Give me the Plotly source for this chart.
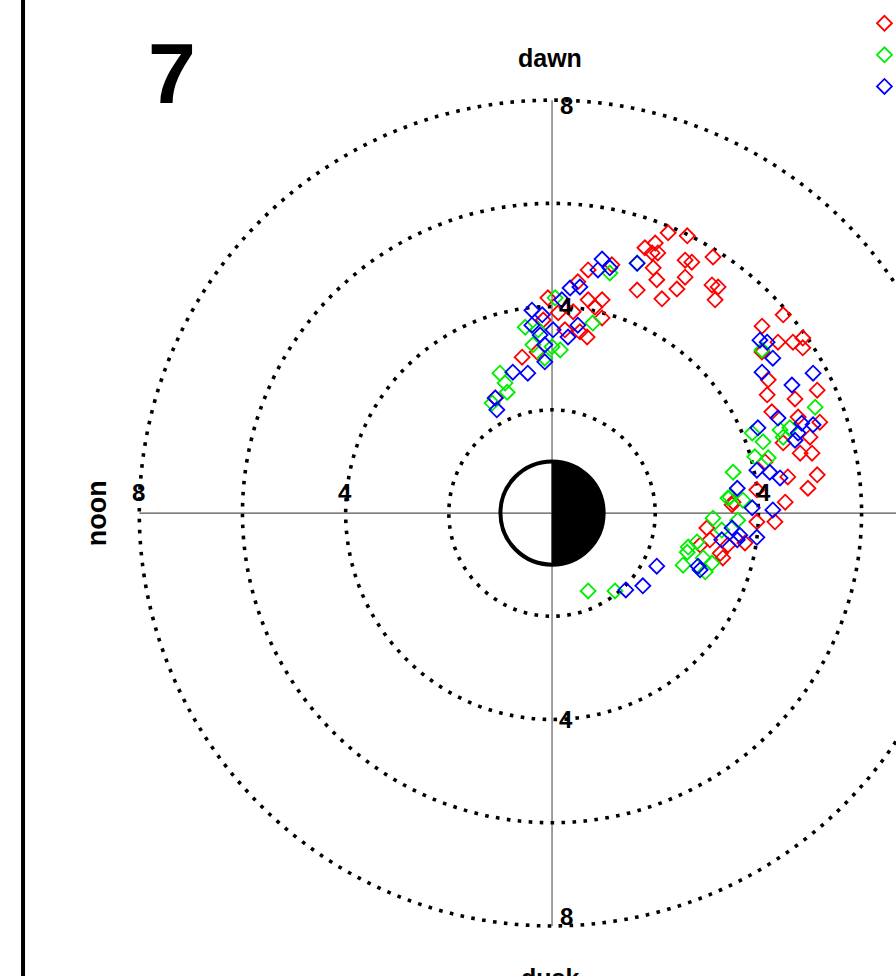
import numpy as np
import plotly.graph_objects as go

# ---------------- data (units: Earth radii) ----------------
SERIES_NAMES = ["Series 1", "Series 2", "Series 3"]
SERIES_COLORS = ["#ff0000", "#00ee00", "#0000ff"]

red_x = [2.25, 2.62, 1.80, 2.00, 1.94, 2.05, 3.12, 1.96, 2.58, 2.71, 2.58, 2.03, 1.65, 2.42,
         2.13, 3.10, 3.22, 3.16, 1.16, 0.70, 0.50, 0.97, 0.70, 0.83, 0.97, -0.08, 0.12, 0.41,
         0.68, 0.54, -0.58, -0.29, -1.10, -0.17, 0.25,
         4.48, 4.07, 4.38, 4.67, 4.86, 4.86, 4.07, 4.19, 4.17, 4.71, 5.14, 4.26, 4.77, 5.19,
         5.00, 4.48, 4.81, 5.04, 4.13, 4.57, 5.14, 4.96, 4.52, 3.51, 4.32, 3.00, 3.49, 3.06,
         3.26, 3.31, 3.74, 3.97, 2.87, 3.41, 3.97]
red_y = [5.43, 5.37, 5.14, 5.23, 5.04, 5.04, 4.96, 4.75, 4.90, 4.86, 4.57, 4.52, 4.32, 4.34,
         4.15, 4.42, 4.38, 4.13, 4.81, 4.71, 4.48, 4.13, 4.13, 3.99, 3.78, 4.17, 3.88, 3.90,
         3.41, 3.51, 3.02, 3.12, 2.23, 3.74, 3.55,
         3.84, 3.62, 3.31, 3.31, 3.39, 3.20, 3.12, 2.58, 2.29, 2.21, 2.38, 1.96, 1.86, 1.76,
         1.47, 1.36, 1.16, 1.16, 0.99, 0.70, 0.74, 0.48, 0.21, 0.21, -0.17, -0.29, 0.16, -0.52,
         -0.78, -0.87, -0.58, -0.17, -0.62, -0.62, 0.45]

green_x = [1.65, 1.12, 0.06, -0.52, 0.79, -0.37, 0.16, 0.00, -1.01, -0.91, -0.87, -1.16,
           -0.27, -0.14,
           4.07, 5.10, 3.88, 4.09, 4.42, 4.48, 4.61, 3.93, 4.19, 3.51, 3.45, 3.70, 3.12, 3.60,
           0.70, 1.22, 3.41, 2.64, 2.62, 2.54, 2.81, 3.10, 2.97, 3.29, 2.93]
green_y = [4.84, 4.65, 4.17, 3.60, 3.68, 3.26, 3.16, 3.22, 2.71, 2.52, 2.34, 2.13,
           3.55, 3.00,
           3.16, 2.05, 1.55, 1.38, 1.61, 1.47, 1.65, 1.09, 1.07, 0.79, 0.31, 0.25, -0.10, -0.14,
           -1.51, -1.51, 0.29, -0.66, -0.76, -1.01, -0.56, -0.97, -1.14, -0.33, -0.87]

blue_x = [0.97, 0.89, 1.12, 1.65, 0.35, 0.54, 0.19, -0.39, -0.19, -0.39, -0.23, 0.02, 0.50,
          0.31, -0.14, -0.14, -0.47, -0.76, -1.10, -1.07,
          4.03, 4.17, 4.28, 4.07, 5.06, 4.65, 4.38, 4.84, 5.06, 4.77, 4.71, 3.99, 3.97, 4.22,
          4.42, 3.59, 3.88, 4.28, 3.49, 1.43, 1.76, 2.03, 2.83, 2.87, 3.59, 3.64, 3.97, 3.29]
blue_y = [4.92, 4.71, 4.75, 4.84, 4.36, 4.38, 4.13, 3.93, 3.84, 3.64, 3.45, 3.55, 3.64,
          3.41, 3.26, 2.93, 2.71, 2.73, 2.23, 2.00,
          3.35, 3.31, 3.00, 2.73, 2.71, 2.48, 1.84, 1.74, 1.71, 1.55, 1.41, 1.65, 0.83, 0.79,
          0.68, 0.48, 0.10, 0.06, -0.29, -1.49, -1.41, -1.03, -1.03, -1.10, -0.52, -0.43, -0.47,
          -0.52]

RING_RADII = [2, 4, 6, 8]
RING_LABELS = [4, 8]
AXIS_LIMIT = 8
EARTH_R = 1.0
DIRECTION_LABELS = {"top": "dawn", "left": "noon", "bottom": "dusk"}
PANEL_LABEL = "7"

# ---------------- figure ----------------
FONT = "Liberation Sans, Arial, Helvetica, sans-serif"
fig = go.Figure()

for name, color, xs, ys in zip(SERIES_NAMES, SERIES_COLORS,
                               [red_x, green_x, blue_x], [red_y, green_y, blue_y]):
    fig.add_trace(go.Scatter(
        x=xs, y=ys, mode="markers", name=name,
        marker=dict(symbol="diamond-open", size=11.5, color=color,
                    line=dict(width=1.8, color=color)),
        cliponaxis=False,
    ))

shapes = []
# axis cross lines
shapes.append(dict(type="line", xref="x", yref="y", x0=-AXIS_LIMIT, x1=AXIS_LIMIT, y0=0, y1=0,
                   line=dict(color="#555555", width=1.2), layer="below"))
shapes.append(dict(type="line", xref="x", yref="y", x0=0, x1=0, y0=-AXIS_LIMIT, y1=AXIS_LIMIT,
                   line=dict(color="#777777", width=1.4), layer="below"))
# dotted rings
for r in RING_RADII:
    shapes.append(dict(type="circle", xref="x", yref="y", x0=-r, x1=r, y0=-r, y1=r,
                       line=dict(color="black", width=3.6, dash="3.6px,7.4px"), layer="below"))
# Earth: night half filled
th = np.linspace(-np.pi / 2, np.pi / 2, 80)
path = "M " + " L ".join(f"{EARTH_R*np.cos(t):.4f},{EARTH_R*np.sin(t):.4f}" for t in th) + " Z"
shapes.append(dict(type="path", xref="x", yref="y", path=path, fillcolor="black",
                   line=dict(color="black", width=1), layer="above"))
shapes.append(dict(type="circle", xref="x", yref="y", x0=-EARTH_R, x1=EARTH_R, y0=-EARTH_R,
                   y1=EARTH_R, line=dict(color="black", width=4), layer="above"))
# left frame line
shapes.append(dict(type="line", xref="paper", yref="paper", x0=0.0257, x1=0.0257, y0=0, y1=1,
                   line=dict(color="black", width=4)))

annotations = []
lab_font = dict(family=FONT, size=24, color="black")
for r in RING_LABELS:
    t = f"<b>{r}</b>"
    # on vertical axis (top and bottom)
    annotations.append(dict(x=0, y=r, xref="x", yref="y", text=t, showarrow=False,
                            xshift=14, yshift=(-5 if r == 8 else 0), font=lab_font))
    annotations.append(dict(x=0, y=-r, xref="x", yref="y", text=t, showarrow=False,
                            xshift=14, yshift=(9 if r == 8 else 0), font=lab_font))
    # on horizontal axis (left and right)
    annotations.append(dict(x=-r, y=0, xref="x", yref="y", text=t, showarrow=False,
                            xshift=-1, yshift=21, font=lab_font))
    annotations.append(dict(x=r, y=0, xref="x", yref="y", text=t, showarrow=False,
                            xshift=6, yshift=21, font=lab_font))

annotations.append(dict(x=0, y=AXIS_LIMIT, xref="x", yref="y",
                        text=f"<b>{DIRECTION_LABELS['top']}</b>",
                        showarrow=False, yshift=42, xshift=-2,
                        font=dict(family=FONT, size=25, color="black")))
annotations.append(dict(x=-AXIS_LIMIT, y=0, xref="x", yref="y",
                        text=f"<b>{DIRECTION_LABELS['left']}</b>",
                        showarrow=False, xshift=-42, textangle=-90,
                        font=dict(family=FONT, size=27, color="black")))
annotations.append(dict(x=0, y=-AXIS_LIMIT, xref="x", yref="y",
                        text=f"<b>{DIRECTION_LABELS['bottom']}</b>",
                        showarrow=False, yshift=-52, xshift=-2,
                        font=dict(family=FONT, size=25, color="black")))
annotations.append(dict(x=172 / 896, y=1 - 73 / 976, xref="paper", yref="paper",
                        xanchor="center", yanchor="middle", text=f"<b>{PANEL_LABEL}</b>",
                        showarrow=False, font=dict(family=FONT, size=86, color="black")))

fig.update_layout(
    width=896, height=976,
    margin=dict(l=0, r=0, t=0, b=0, pad=0, autoexpand=False),
    paper_bgcolor="white", plot_bgcolor="white",
    xaxis=dict(range=[-10.70, 6.667], visible=False, showgrid=False, zeroline=False, fixedrange=True),
    yaxis=dict(range=[-8.97, 9.94], visible=False, showgrid=False, zeroline=False, fixedrange=True),
    shapes=shapes, annotations=annotations,
    showlegend=True,
    legend=dict(x=0.9648, y=0.9975, xanchor="left", yanchor="top", bgcolor="rgba(0,0,0,0)",
                font=dict(family=FONT, size=22, color="black"), tracegroupgap=0),
)

fig.write_html("out.html", config={"displayModeBar": False},
               post_script="document.body.style.margin='0px';")
